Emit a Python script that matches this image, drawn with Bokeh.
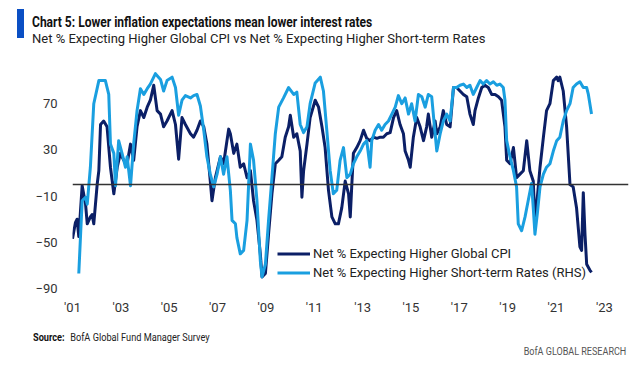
from bokeh.plotting import figure
from bokeh.layouts import column
from bokeh.models import Range1d, FixedTicker, Span, Legend, LegendItem, Div
from bokeh.embed import file_html
from bokeh.resources import INLINE

# Net % expecting higher global CPI (LHS)
cpi_year = [2001.00, 2001.12, 2001.19, 2001.26, 2001.40, 2001.54, 2001.61, 2001.74, 2001.81, 2001.88,
            2002.02, 2002.09, 2002.16, 2002.29, 2002.43, 2002.57, 2002.71, 2002.85, 2002.98, 2003.12,
            2003.26, 2003.40, 2003.53, 2003.67, 2003.81, 2003.95, 2004.09, 2004.22, 2004.36, 2004.50,
            2004.64, 2004.77, 2004.91, 2005.12, 2005.26, 2005.39, 2005.53, 2005.67, 2005.88, 2006.01,
            2006.15, 2006.29, 2006.43, 2006.56, 2006.70, 2006.77, 2006.91, 2007.12, 2007.25, 2007.46,
            2007.53, 2007.67, 2007.80, 2007.94, 2008.08, 2008.22, 2008.36, 2008.49, 2008.63, 2008.77,
            2008.84, 2008.98, 2009.11, 2009.25, 2009.39, 2009.53, 2009.66, 2009.80, 2009.94, 2010.01,
            2010.15, 2010.28, 2010.42, 2010.49, 2010.56, 2010.70, 2010.83, 2011.04, 2011.18, 2011.32,
            2011.45, 2011.59, 2011.73, 2011.87, 2012.00, 2012.14, 2012.28, 2012.42, 2012.49, 2012.55,
            2012.62, 2012.76, 2012.90, 2013.04, 2013.17, 2013.31, 2013.45, 2013.59, 2013.73, 2013.86,
            2014.00, 2014.14, 2014.28, 2014.41, 2014.55, 2014.69, 2014.76, 2014.90, 2014.97, 2015.10,
            2015.24, 2015.38, 2015.52, 2015.65, 2015.72, 2015.86, 2016.00, 2016.07, 2016.21, 2016.34,
            2016.48, 2016.62, 2016.76, 2016.89, 2017.03, 2017.17, 2017.31, 2017.44, 2017.58, 2017.65,
            2017.79, 2017.93, 2018.06, 2018.20, 2018.34, 2018.48, 2018.62, 2018.75, 2018.89, 2018.96,
            2019.10, 2019.24, 2019.37, 2019.51, 2019.65, 2019.79, 2019.92, 2020.06, 2020.13, 2020.23,
            2020.34, 2020.48, 2020.61, 2020.75, 2020.89, 2021.03, 2021.09, 2021.16, 2021.30, 2021.44,
            2021.58, 2021.71, 2021.85, 2021.99, 2022.06, 2022.13, 2022.20, 2022.27, 2022.40, 2022.47]
cpi_value = [-47, -33, -30, -45, -1, -17, -34, -28, -26, -34,
             0, 12, 52, 55, 50, 15, -8, 15, 27, 21,
             18, 35, 21, 50, 64, 58, 67, 73, 86, 64,
             61, 50, 55, 64, 52, 22, 58, 52, 44, 41,
             47, 55, 50, 35, 3, -14, 6, 24, 18, 48,
             44, 27, 35, 15, 18, 6, 12, -14, -31, -60,
             -80, -77, -43, -8, 18, 21, 24, 41, 50, 60,
             41, 44, 29, -11, 12, 35, 58, 73, 67, 50,
             32, -5, -28, -34, -34, -20, 3, -8, -28, -2,
             27, 32, 38, 47, 40, 38, 41, 40, 41, 41,
             44, 45, 58, 64, 52, 44, 29, 21, 15, 41,
             58, 50, 38, 50, 61, 41, 55, 44, 50, 64,
             52, 50, 84, 84, 81, 78, 76, 61, 52, 64,
             75, 84, 86, 84, 78, 78, 76, 73, 50, 21,
             18, 32, 6, 9, 12, 38, 12, 3, -31, -11,
             15, 41, 64, 70, 90, 93, 90, 93, 81, 50,
             0, -2, -20, -54, -57, -7, -43, -69, -74, -76]

# Net % expecting higher short-term rates (RHS)
rates_year = [2001.26, 2001.40, 2001.54, 2001.61, 2001.74, 2001.88, 2002.09, 2002.36, 2002.50, 2002.57,
              2002.71, 2002.78, 2002.91, 2003.05, 2003.19, 2003.26, 2003.40, 2003.53, 2003.67, 2003.81,
              2003.95, 2004.09, 2004.22, 2004.43, 2004.64, 2004.77, 2004.91, 2005.12, 2005.26, 2005.39,
              2005.53, 2005.67, 2005.88, 2006.01, 2006.15, 2006.29, 2006.43, 2006.56, 2006.70, 2006.84,
              2006.98, 2007.12, 2007.25, 2007.39, 2007.53, 2007.60, 2007.74, 2007.80, 2007.94, 2008.08,
              2008.22, 2008.36, 2008.49, 2008.63, 2008.77, 2008.84, 2008.98, 2009.11, 2009.25, 2009.39,
              2009.53, 2009.73, 2009.94, 2010.15, 2010.28, 2010.42, 2010.56, 2010.70, 2010.83, 2011.04,
              2011.25, 2011.38, 2011.52, 2011.66, 2011.79, 2011.93, 2012.07, 2012.21, 2012.35, 2012.49,
              2012.62, 2012.76, 2012.90, 2013.04, 2013.17, 2013.31, 2013.38, 2013.52, 2013.66, 2013.79,
              2013.93, 2014.07, 2014.21, 2014.35, 2014.48, 2014.62, 2014.76, 2014.90, 2015.03, 2015.17,
              2015.31, 2015.45, 2015.59, 2015.72, 2015.86, 2016.00, 2016.07, 2016.21, 2016.34, 2016.48,
              2016.62, 2016.76, 2016.89, 2017.03, 2017.17, 2017.31, 2017.44, 2017.58, 2017.72, 2017.86,
              2017.99, 2018.13, 2018.27, 2018.41, 2018.55, 2018.68, 2018.82, 2018.89, 2018.96, 2019.10,
              2019.24, 2019.37, 2019.44, 2019.58, 2019.72, 2019.85, 2019.99, 2020.06, 2020.13, 2020.23,
              2020.34, 2020.48, 2020.61, 2020.75, 2020.89, 2021.03, 2021.16, 2021.30, 2021.44, 2021.58,
              2021.71, 2021.85, 2021.99, 2022.13, 2022.27, 2022.34, 2022.47]
rates_value = [-77, -14, -11, -17, 15, 70, 90, 90, 78, 35,
               27, -1, 38, 27, 15, 24, -1, 35, 64, 83,
               78, 83, 87, 96, 91, 81, 90, 93, 84, 60,
               73, 77, 75, 77, 78, 68, 47, 24, 9, -2,
               9, 24, 9, 24, -5, -31, -34, -46, -60, -57,
               -31, 35, 21, -14, -66, -80, -69, -31, 6, 44,
               67, 75, 84, 78, 80, 52, 45, 50, 70, 88,
               93, 81, 47, 12, -8, -5, 21, 32, 6, 9,
               18, 24, 29, 35, 38, 15, 38, 47, 52, 47,
               52, 55, 61, 67, 77, 70, 75, 61, 70, 55,
               78, 76, 67, 78, 76, 44, 29, 44, 55, 61,
               55, 84, 84, 86, 87, 84, 86, 78, 84, 90,
               87, 90, 87, 89, 86, 87, 84, 73, 38, 24,
               12, -2, -34, -40, -28, -14, 1, -20, -43, -25,
               -2, 9, 15, 18, 29, 38, 41, 55, 64, 70,
               84, 87, 89, 84, 84, 78, 61]

x_ticks = [2001, 2003, 2005, 2007, 2009, 2011, 2013, 2015, 2017, 2019, 2021, 2023]
x_tick_labels = ["'01", "'03", "'05", "'07", "'09", "'11", "'13", "'15", "'17", "'19", "'21", "'23"]
y_ticks = [-90, -50, -10, 30, 70]

title_text = "Chart 5: Lower inflation expectations mean lower interest rates"
subtitle_text = "Net % Expecting Higher Global CPI vs Net % Expecting Higher Short-term Rates"
cpi_label = "Net % Expecting Higher Global CPI"
rates_label = "Net % Expecting Higher Short-term Rates (RHS)"
source_label = "Source:"
source_text = "BofA Global Fund Manager Survey"
brand_text = "BofA GLOBAL RESEARCH"

NAVY = "#0b1f66"
LIGHT = "#1a9fe0"
BAR = "#0a4fc4"

header = Div(width=644, height=57, margin=0, text=f"""
<div style="position:relative;width:644px;height:57px;font-family:Roboto;">
  <div style="position:absolute;left:17px;top:9px;width:7px;height:29px;background:{BAR};"></div>
  <div style="position:absolute;left:32px;top:14px;line-height:16px;font-weight:bold;font-size:14px;
              color:#111;white-space:nowrap;transform:scaleX(0.86);transform-origin:left center;">{title_text}</div>
  <div style="position:absolute;left:32px;top:31px;line-height:16px;font-size:13px;
              color:#222;white-space:nowrap;">{subtitle_text}</div>
</div>""")

p = figure(width=644, height=261, output_backend="svg", toolbar_location=None,
           x_range=Range1d(2001, 2024), y_range=Range1d(-90, 110),
           min_border_left=72, min_border_right=16, min_border_top=0, min_border_bottom=30)
p.outline_line_color = None
p.grid.visible = False

for ax in (p.xaxis[0], p.yaxis[0]):
    ax.axis_line_color = None
    ax.major_tick_line_color = None
    ax.minor_tick_line_color = None
    ax.major_tick_out = 0
    ax.major_tick_in = 0
    ax.major_label_text_font = "Roboto"
    ax.major_label_text_font_size = "13px"
    ax.major_label_text_color = "#333333"

p.xaxis.ticker = FixedTicker(ticks=x_ticks)
p.xaxis.major_label_overrides = {t: lab for t, lab in zip(x_ticks, x_tick_labels)}
p.xaxis.major_label_standoff = 11
p.yaxis.ticker = FixedTicker(ticks=y_ticks)
p.yaxis.major_label_standoff = 15

p.add_layout(Span(location=0, dimension="width", line_color="#333333", line_width=1.6))

r_cpi = p.line(cpi_year, cpi_value, line_color=NAVY, line_width=3, line_join="round")
r_rates = p.line(rates_year, rates_value, line_color=LIGHT, line_width=3, line_join="round")

legend = Legend(items=[LegendItem(label=cpi_label, renderers=[r_cpi]),
                       LegendItem(label=rates_label, renderers=[r_rates])],
                location=(205, 6), glyph_width=33, glyph_height=19, label_height=19,
                label_standoff=3, spacing=0, padding=0, margin=0,
                border_line_color=None, background_fill_alpha=0,
                label_text_font="Roboto", label_text_font_size="13px", label_text_color="#222222")
p.add_layout(legend)

footer = Div(width=644, height=52, margin=0, text=f"""
<div style="position:relative;width:644px;height:52px;font-family:Roboto;">
  <div style="position:absolute;left:33px;top:13px;line-height:14px;font-size:10px;color:#222;white-space:nowrap;
              transform:scaleX(0.92);transform-origin:left center;">
    <span style="font-weight:bold;color:#111;margin-right:6px;">{source_label}</span>{source_text}</div>
  <div style="position:absolute;right:18px;top:27px;line-height:14px;font-size:10.5px;color:#555;white-space:nowrap;
              transform:scaleX(0.86);transform-origin:right center;">{brand_text}</div>
</div>""")

layout = column(header, p, footer, spacing=0)
open("out.html", "w").write(file_html(layout, INLINE))
